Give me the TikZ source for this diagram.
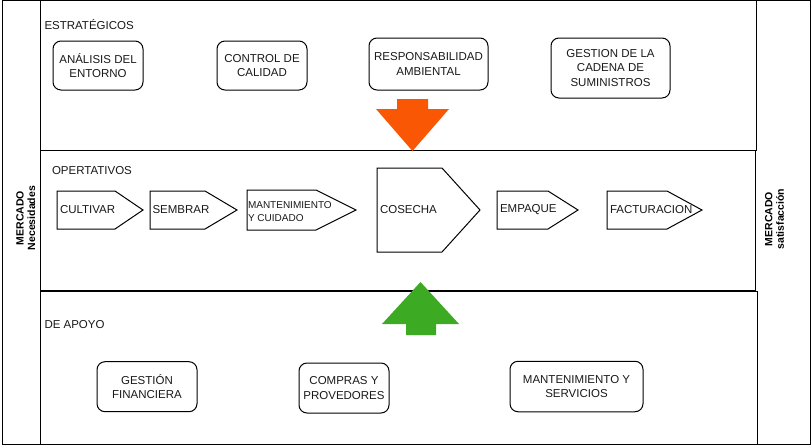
\documentclass[tikz,border=0pt]{standalone}
\usepackage{fontspec}
\setmainfont{Liberation Sans}
\definecolor{txt}{RGB}{25,25,25}
\definecolor{orangec}{RGB}{250,87,5}
\definecolor{greenc}{RGB}{60,170,35}
\begin{document}
\begin{tikzpicture}[x=1pt,y=-1pt,line width=1pt,
  lbl/.style={anchor=west, inner sep=0pt, text height=8.2pt, text depth=0pt, font=\fontsize{11.5}{14}\selectfont, text=txt},
  rbox/.style={draw, rounded corners=8pt, align=center, inner sep=0pt, font=\fontsize{11.5}{14.5}\selectfont, text=txt},
  steptxt/.style={anchor=west, inner sep=0pt, align=left, font=\fontsize{11.5}{14}\selectfont, text=txt},
  smalltxt/.style={anchor=west, inner sep=0pt, align=left, font=\fontsize{10}{12.7}\selectfont, text=txt},
  stepshape/.style={draw, line join=miter},
  mercado/.style={rotate=90, align=center, inner sep=0pt, font=\bfseries\fontsize{10.5}{11.5}\selectfont, text=black},
]
\useasboundingbox (0,0) rectangle (812,445);
\fill[white] (0,0) rectangle (812,445);

% outer frame and columns
\draw (2.5,0.5) rectangle (810.5,444);
\draw (40.5,0.5) -- (40.5,444);
\draw (40.5,0.5) rectangle (756,150.5);
\draw (40.5,150.5) rectangle (755,290);
\draw (40.5,291) rectangle (757.5,444);

% section labels
\node[lbl] (estr) at (44,25.3) {ESTRATÉGICOS};
\node[lbl] (oper) at (51.5,170.7) {OPERTATIVOS};
\node[lbl] (apoyo) at (44,324.3) {DE APOYO};

% market labels
\node[mercado] (mercL) at (25.7,218) {MERCADO\\Necesidades};
\node[mercado] (mercR) at (774.5,219) {MERCADO\\satisfacción};

% strategic boxes
\node[rbox, minimum width=90pt, minimum height=49pt] (analisis) at (98,65.5) {ANÁLISIS DEL\\ENTORNO};
\node[rbox, minimum width=90pt, minimum height=49pt] (control) at (262,65.5) {CONTROL DE\\CALIDAD};
\node[rbox, minimum width=119pt, minimum height=52pt] (resp) at (428.5,64) {RESPONSABILIDAD\\AMBIENTAL};
\node[rbox, minimum width=119pt, minimum height=60pt] (gestion) at (610.5,68) {GESTION DE LA\\CADENA DE\\SUMINISTROS};

% support boxes
\node[rbox, minimum width=100pt, minimum height=50pt] (fin) at (147,386.7) {GESTIÓN\\FINANCIERA};
\node[rbox, minimum width=90pt, minimum height=50pt] (compras) at (344,388) {COMPRAS Y\\PROVEDORES};
\node[rbox, minimum width=133pt, minimum height=50.5pt] (mantserv) at (576.5,386.5) {MANTENIMIENTO Y\\SERVICIOS};

% operative process steps
\draw[stepshape] (57,191) -- (115,191) -- (143,210) -- (115,229) -- (57,229) -- cycle;
\draw[stepshape] (150,191) -- (205,191) -- (237,210) -- (205,229) -- (150,229) -- cycle;
\draw[stepshape] (247,190) -- (316,190) -- (356,210) -- (316,230) -- (247,230) -- cycle;
\draw[stepshape] (377,168) -- (442,168) -- (480,210) -- (442,252) -- (377,252) -- cycle;
\draw[stepshape] (497,191) -- (548,191) -- (578,210) -- (548,229) -- (497,229) -- cycle;
\draw[stepshape] (607,191) -- (667,191) -- (702,210) -- (667,229) -- (607,229) -- cycle;

\node[steptxt] (cultivar) at (59.5,210) {CULTIVAR};
\node[steptxt] (sembrar) at (152,210) {SEMBRAR};
\node[smalltxt] (mantcuid) at (247.5,211.5) {MANTENIMIENTO\\Y CUIDADO};
\node[steptxt] (cosecha) at (379.5,210) {COSECHA};
\node[steptxt] (empaque) at (499.5,210) {EMPAQUE};
\node[steptxt] (factura) at (609.5,210) {FACTURACION};

% big arrows
\fill[orangec] (397,99) -- (428,99) -- (428,109) -- (449,109) -- (412.5,151) -- (376,109) -- (397,109) -- cycle;
\fill[greenc] (420.5,282) -- (459,324) -- (436,324) -- (436,335) -- (406,335) -- (406,324) -- (382,324) -- cycle;
\end{tikzpicture}
\end{document}
